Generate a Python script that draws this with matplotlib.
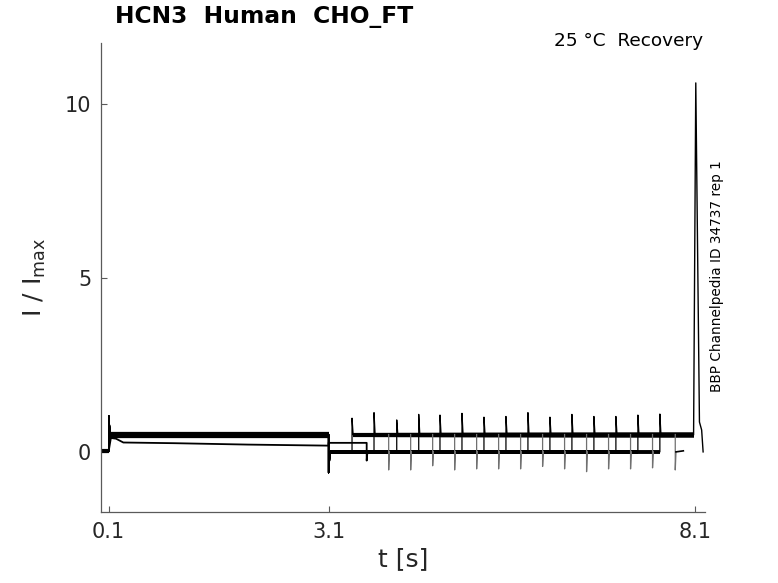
import numpy as np
import matplotlib.pyplot as plt

# protocol times [s]
t_start = 0.0
t_on = 0.1
t_off1 = 3.1
t_off2 = 8.08
t_stop = 8.21

# levels (I / Imax)
base_level = 0.02
onset_peak = 1.04
first_level = 0.50
off_dip = -0.60
hold_level = 0.0
rec_level = 0.50
tail_peak = 10.62
tail_after = [0.86, 0.63]

# second-pulse onsets (upward transients)
rec_times = [3.42, 3.72, 4.03, 4.33, 4.62, 4.92, 5.22, 5.52, 5.82, 6.12, 6.42, 6.72, 7.02, 7.32, 7.62]
rec_peaks = [0.97, 1.13, 0.92, 1.08, 1.06, 1.11, 1.00, 1.02, 1.13, 1.00, 1.08, 1.02, 1.02, 1.06, 1.09]

# downward transients of the second set of sweeps
drop_times = [3.62, 3.92, 4.22, 4.52, 4.82, 5.12, 5.42, 5.72, 6.02, 6.32, 6.62, 6.92, 7.22, 7.52, 7.83]
drop_depths = [-0.25, -0.52, -0.52, -0.40, -0.52, -0.49, -0.49, -0.49, -0.42, -0.49, -0.57, -0.49, -0.49, -0.46, -0.52]

# lower trace during first pulse
low_t = [0.1, 0.13, 0.2, 0.3, 1.0, 2.0, 3.1]
low_i = [0.02, 0.40, 0.38, 0.27, 0.25, 0.21, 0.18]
low_hold = 0.26

fig = plt.figure(figsize=(7.78, 5.83), dpi=100)
ax = fig.add_axes([0.1298, 0.1218, 0.7763, 0.8045])

# first set of sweeps
for n, (tr, pk) in enumerate(zip(rec_times, rec_peaks)):
    t = [t_start, t_on, t_on, t_on + 0.02, t_off1, t_off1, t_off1 + 0.02, tr, tr, tr + 0.015]
    i = [base_level, base_level, onset_peak, first_level, first_level, off_dip, hold_level,
         hold_level, pk, rec_level]
    ax.plot(t, i, color='black', lw=0.9)
    # thick noisy bands
    ax.plot([tr + 0.015, t_off2], [rec_level, rec_level], color='black', lw=3.0, solid_capstyle='butt')
    ax.plot([t_off1 + 0.02, tr], [hold_level, hold_level], color='black', lw=2.8, solid_capstyle='butt')
# tail at end of second pulse
ax.plot([t_off2, 8.11, 8.16, 8.19, t_stop],
        [rec_level, tail_peak, tail_after[0], tail_after[1], hold_level], color='black', lw=1.0)
ax.plot([t_on + 0.02, t_off1], [first_level, first_level], color='black', lw=4.5, solid_capstyle='butt')
ax.plot([t_start, t_on], [base_level, base_level], color='black', lw=3.0, solid_capstyle='butt')

# second set: lower first pulse, then downward transients
ax.plot(low_t + [t_off1, drop_times[0], drop_times[0], drop_times[0] + 0.01],
        low_i + [low_hold, low_hold, drop_depths[0], hold_level], color='black', lw=1.3)
for td, dp in zip(drop_times[1:], drop_depths[1:]):
    ax.plot([td, td, td + 0.01], [rec_level, dp, hold_level], color='#707070', lw=0.9)
ax.plot([drop_times[-1] + 0.01, drop_times[-1] + 0.11], [hold_level, 0.03], color='black', lw=1.2)

ax.set_xlim(-0.005, 8.235)
ax.set_ylim(-1.73, 11.77)
ax.set_xticks([0.1, 3.1, 8.1])
ax.set_xticklabels(['0.1', '3.1', '8.1'])
ax.set_yticks([0, 5, 10])
for s in ['top', 'right']:
    ax.spines[s].set_visible(False)
for s in ['left', 'bottom']:
    ax.spines[s].set_color('#5a5a5a')
    ax.spines[s].set_linewidth(0.9)
ax.tick_params(direction='in', length=4.5, width=0.8, color='#5a5a5a',
               labelsize=15, labelcolor='#262626', pad=7)

ax.set_xlabel('t [s]', fontsize=18, color='#262626', labelpad=4)
ax.set_ylabel(r'$\mathregular{I\ /\ I_{max}}$', fontsize=18, color='#262626', labelpad=12)

fig.text(115 / 778, 1 - 17 / 583, 'HCN3  Human  CHO_FT', fontsize=16.8, fontweight='bold',
         ha='left', va='center')
fig.text(703 / 778, 1 - 41 / 583, '25 °C  Recovery', fontsize=13.3, ha='right', va='center')
fig.text(717 / 778, 1 - 276 / 583, 'BBP Channelpedia ID 34737 rep 1', fontsize=9.8,
         rotation=90, ha='center', va='center')

fig.savefig('out.png', dpi=100)
